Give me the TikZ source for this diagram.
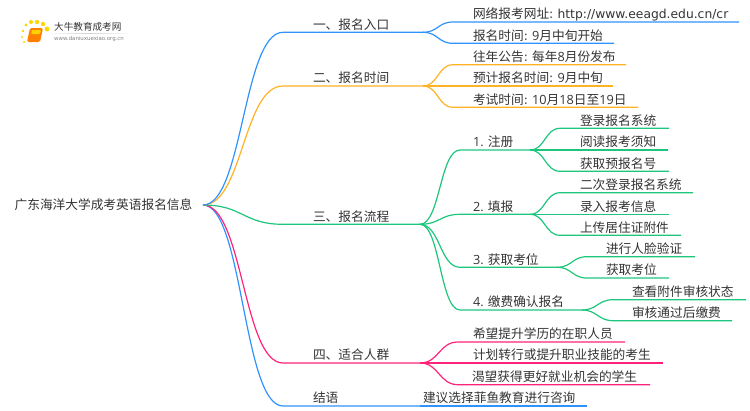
\documentclass[tikz,border=0pt]{standalone}
\usepackage{fontspec}
\setmainfont{Noto Sans CJK SC}
\newfontfamily\latfont[Scale=0.97]{DejaVu Sans}
\newfontfamily\numfont{Open Sans}
\newcommand{\lat}[1]{{\latfont #1}}
\newcommand{\numtext}[1]{{\numfont #1}}
\frenchspacing

\definecolor{inkgray}{HTML}{333333}
\definecolor{linkblue}{HTML}{2F92FF}
\definecolor{linkorange}{HTML}{FFB224}
\definecolor{linkgreen}{HTML}{1DC67C}
\definecolor{linkpink}{HTML}{FF2479}

\tikzset{
	item/.style 2 args = {
		anchor = south west,
		inner xsep = 0pt,
		inner ysep = 0.6pt,
		outer sep = 0pt,
		text = inkgray,
		text width = #1pt,
		text height = 10pt,
		text depth = 2.5pt,
		align = left,
		font = \fontsize{12.7}{14}\selectfont,
		execute at begin node = {\hspace*{#2pt}}
	},
	link/.style = {
		to path = {.. controls +(#1, 0) and +(-#1, 0) .. (\tikztotarget.south west)
			-- (\tikztotarget.south east)}
	},
	wire/.style = {
		draw = #1,
		line width = 1.2pt
	}
}

\begin{document}
\begin{tikzpicture}[x = 1pt, y = -1pt]
	\useasboundingbox (0, 0) rectangle (750, 410);

	% logo
	\fill[yellow!75!orange] (23, 31) circle (1.4) (26, 25) circle (1.7) (31, 22) circle (2)
		(37, 22) circle (2.2) (43, 24) circle (2.2) (47, 29) circle (2.5) (22, 37) circle (1.1) (24, 42) circle (1.1);
	\fill[orange, rounded corners = 1.5] (30, 28) -- (43, 28) -- (40, 42) -- (27, 42) -- cycle;
	\fill[yellow!70!orange, rounded corners = 1] (32, 30) -- (41, 30) -- (40, 34) -- (31, 34) -- cycle;
	\shade[left color = white, right color = white, middle color = gray!35] (45, 33) rectangle (133, 33.6);
	\draw (54, 27) node[anchor = west,
					  inner sep = 0pt,
					  text = inkgray,
					  font = \fontsize{9.6}{10}\selectfont
			   ](logotitle){大牛教育成考网};
	\draw (54, 39) node[anchor = west,
					  inner sep = 0pt,
					  text = gray,
					  font = \fontsize{5.6}{6}\latfont
			   ](logourl){www.daniuxuexiao.org.cn};

	\draw (4, 205) node[anchor = west,
					  inner sep = 0pt,
					  outer sep = 0pt,
					  minimum width = 199pt,
					  text = inkgray,
					  font = \fontsize{12.7}{14}\selectfont
			   ](root){广东海洋大学成考英语报名信息};

	\draw (283, 32.3) node[item = {140}{30}](entry){一、报名入口};
	\draw (283, 86) node[item = {140}{30}](period){二、报名时间};
	\draw (283, 224.3) node[item = {137}{30}](flow){三、报名流程};
	\draw (283, 363) node[item = {137}{30}](crowd){四、适合人群};
	\draw (283, 406) node[item = {137}{30}](close){结语};

	\draw (453, 22) node[item = {286}{20}](site){网络报考网址\lat{: http://www.eeagd.edu.cn/cr}};
	\draw (453, 43.3) node[item = {161}{20}](start){报名时间\lat{: }\numtext{9}月中旬开始};
	\draw (453, 64.7) node[item = {173}{20}](notice){往年公告\lat{: }每年\numtext{8}月份发布};
	\draw (423, 86) node[item = {190}{50}](expect){预计报名时间\lat{: }\numtext{9}月中旬};
	\draw (453, 107.3) node[item = {185}{20}](exam){考试时间\lat{: }\numtext{10}月\numtext{18}日至\numtext{19}日};

	\draw (460, 150) node[item = {70}{13}](signup){\numtext{1. }注册};
	\draw (460, 214.3) node[item = {70}{13}](fill){\numtext{2. }填报};
	\draw (460, 267.3) node[item = {97}{13}](seat){\numtext{3. }获取考位};
	\draw (460, 310) node[item = {122}{13}](pay){\numtext{4. }缴费确认报名};

	\draw (560, 128.3) node[item = {109}{20}](login){登录报名系统};
	\draw (530, 150) node[item = {138}{50}](read){阅读报考须知};
	\draw (560, 171.3) node[item = {109}{20}](number){获取预报名号};
	\draw (560, 192.7) node[item = {133}{20}](relogin){二次登录报名系统};
	\draw (530, 214.3) node[item = {139}{50}](input){录入报考信息};
	\draw (560, 235.3) node[item = {121}{20}](upload){上传居住证附件};
	\draw (587, 256.7) node[item = {108}{19}](face){进行人脸验证};
	\draw (587, 278) node[item = {82}{19}](getseat){获取考位};
	\draw (613, 299.7) node[item = {133}{19}](check){查看附件审核状态};
	\draw (613, 320.7) node[item = {119}{19}](after){审核通过后缴费};

	\draw (458, 342) node[item = {167}{15}](staff){希望提升学历的在职人员};
	\draw (420, 363) node[item = {243}{53}](career){计划转行或提升职业技能的考生};
	\draw (458, 384.7) node[item = {192}{14}](student){渴望获得更好就业机会的学生};
	\draw (420, 406) node[item = {167}{3}](advice){建议选择菲鱼教育进行咨询};

	\draw[wire = linkblue] (root.east) to[link = 40] (close);
	\draw[wire = linkpink] (root.east) to[link = 40] (crowd);
	\draw[wire = linkgreen] (root.east) to[link = 40] (flow);
	\draw[wire = linkorange] (root.east) to[link = 40] (period);
	\draw[wire = linkblue] (root.east) to[link = 40] (entry);

	\draw[wire = linkblue] (entry.south east) to[link = 15] (site);
	\draw[wire = linkblue] (entry.south east) to[link = 15] (start);

	\draw[wire = linkorange] (period.south east) to[link = 15] (notice);
	\draw[wire = linkorange] (period.south east) -- (expect.south east);
	\draw[wire = linkorange] (period.south east) to[link = 15] (exam);

	\draw[wire = linkgreen] (flow.south east) to[link = 20] (signup);
	\draw[wire = linkgreen] (flow.south east) to[link = 20] (fill);
	\draw[wire = linkgreen] (flow.south east) to[link = 20] (seat);
	\draw[wire = linkgreen] (flow.south east) to[link = 20] (pay);

	\draw[wire = linkgreen] (signup.south east) to[link = 15] (login);
	\draw[wire = linkgreen] (signup.south east) -- (read.south east);
	\draw[wire = linkgreen] (signup.south east) to[link = 15] (number);
	\draw[wire = linkgreen] (fill.south east) to[link = 15] (relogin);
	\draw[wire = linkgreen] (fill.south east) -- (input.south east);
	\draw[wire = linkgreen] (fill.south east) to[link = 15] (upload);
	\draw[wire = linkgreen] (seat.south east) to[link = 15] (face);
	\draw[wire = linkgreen] (seat.south east) to[link = 15] (getseat);
	\draw[wire = linkgreen] (pay.south east) to[link = 15] (check);
	\draw[wire = linkgreen] (pay.south east) to[link = 15] (after);

	\draw[wire = linkpink] (crowd.south east) to[link = 19] (staff);
	\draw[wire = linkpink] (crowd.south east) -- (career.south east);
	\draw[wire = linkpink] (crowd.south east) to[link = 19] (student);

	\draw[wire = linkblue] (close.south east) -- (advice.south east);
\end{tikzpicture}
\end{document}
